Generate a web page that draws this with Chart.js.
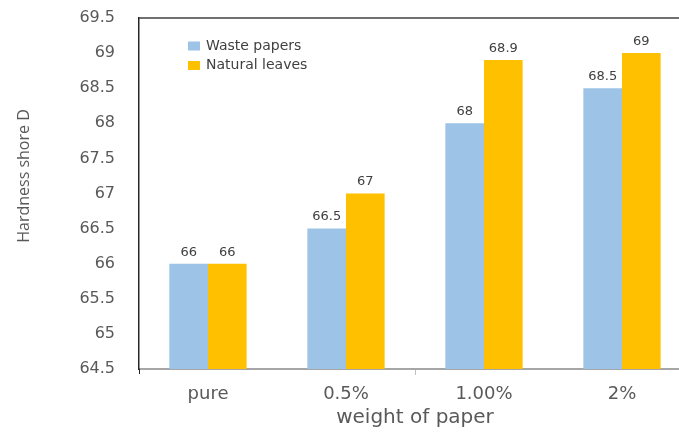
<!DOCTYPE html>
<html>
<head>
<meta charset="utf-8">
<script src="https://cdn.jsdelivr.net/npm/chart.js@4"></script>
<style>
html,body{margin:0;padding:0;background:#fff;overflow:hidden;}
#wrap{width:700px;height:432px;}
</style>
</head>
<body>
<div id="wrap"><canvas id="c" width="700" height="432"></canvas></div>
<script>
const categories = ["pure", "0.5%", "1.00%", "2%"];
const wastePapers = [66, 66.5, 68, 68.5];
const naturalLeaves = [66, 67, 68.9, 69];
const seriesNames = ["Waste papers", "Natural leaves"];
const yTitle = "Hardness shore D";
const xTitle = "weight of paper";

const FONT = "'DejaVu Sans', 'Open Sans', sans-serif";

const valueLabels = {
  id: 'valueLabels',
  afterDatasetsDraw(chart) {
    const ctx = chart.ctx;
    ctx.save();
    ctx.font = "13px " + FONT;
    ctx.fillStyle = "#404040";
    ctx.textAlign = "center";
    ctx.textBaseline = "bottom";
    chart.data.datasets.forEach((ds, i) => {
      const meta = chart.getDatasetMeta(i);
      meta.data.forEach((bar, j) => {
        ctx.fillText(String(ds.data[j]), bar.x, bar.y - 5);
      });
    });
    ctx.restore();
  }
};

const frame = {
  id: 'frame',
  afterDraw(chart) {
    const ctx = chart.ctx, a = chart.chartArea;
    ctx.save();
    ctx.strokeStyle = "#404040";
    ctx.lineWidth = 1.5;
    ctx.beginPath();
    ctx.moveTo(a.left, a.top);
    ctx.lineTo(a.right, a.top);
    ctx.stroke();
    // left axis small extension below
    ctx.strokeStyle = "#262626";
    ctx.lineWidth = 1;
    ctx.beginPath();
    ctx.moveTo(a.left + 0.5, a.bottom);
    ctx.lineTo(a.left + 0.5, a.bottom + 5);
    ctx.stroke();
    // legend
    ctx.font = "14px " + FONT;
    ctx.textBaseline = "middle";
    ctx.textAlign = "left";
    chart.data.datasets.forEach((ds, i) => {
      const y = 46 + i * 19.5;
      ctx.fillStyle = ds.backgroundColor;
      ctx.fillRect(188, y - 4.5, 12, 9);
      ctx.fillStyle = "#404040";
      ctx.fillText(ds.label, 206, y);
    });
    // y title
    ctx.save();
    ctx.translate(24, 176);
    ctx.rotate(-Math.PI / 2);
    ctx.font = "16px 'Open Sans', 'DejaVu Sans', sans-serif";
    ctx.fillStyle = "#595959";
    ctx.textAlign = "center";
    ctx.textBaseline = "middle";
    ctx.fillText(yTitle, 0, 0);
    ctx.restore();
    ctx.restore();
  }
};

new Chart(document.getElementById('c'), {
  type: 'bar',
  data: {
    labels: categories,
    datasets: [
      { label: seriesNames[0], data: wastePapers, backgroundColor: "#9DC3E6", borderWidth: 0 },
      { label: seriesNames[1], data: naturalLeaves, backgroundColor: "#FFC000", borderWidth: 0 }
    ]
  },
  options: {
    responsive: false,
    animation: false,
    layout: { padding: { left: 0, right: 9, top: 18, bottom: 0 } },
    categoryPercentage: 0.56,
    barPercentage: 1.0,
    plugins: { legend: { display: false }, tooltip: { enabled: false } },
    scales: {
      x: {
        grid: {
          display: true, drawOnChartArea: false, drawTicks: true, tickLength: 6, offset: true,
          color: (c) => (c.index === 2 ? "#BFBFBF" : "rgba(0,0,0,0)")
        },
        border: { display: true, color: "#A6A6A6", width: 2 },
        ticks: { font: { family: FONT, size: 18 }, color: "#595959", padding: 9 },
        title: { display: true, text: xTitle, font: { family: FONT, size: 20 }, color: "#595959", padding: { top: 0, bottom: 2 } },
        afterFit(s) { s.height = 63; }
      },
      y: {
        min: 64.5, max: 69.5,
        grid: { display: false, drawTicks: false },
        border: { display: true, color: "#262626", width: 1.5 },
        ticks: { stepSize: 0.5, font: { family: FONT, size: 16 }, color: "#595959", padding: 24,
                 callback: (v) => String(v) },
        title: { display: false },
        afterFit(s) { s.width = 139; s.paddingTop = 0; s.paddingBottom = 0; }
      }
    }
  },
  plugins: [valueLabels, frame]
});
</script>
</body>
</html>
